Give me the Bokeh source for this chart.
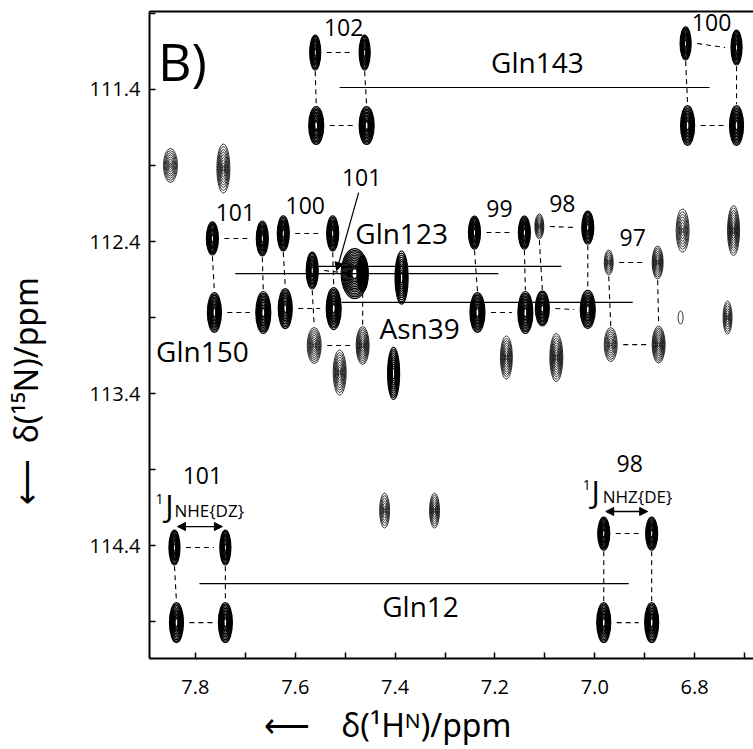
import numpy as np
from bokeh.plotting import figure
from bokeh.models import (Range1d, FixedTicker, NumeralTickFormatter, LinearAxis,
                          Label, Arrow, NormalHead, ColumnDataSource)
from bokeh.core.properties import value
from bokeh.embed import file_html
from bokeh.resources import INLINE

FONT = "Open Sans"

# ---------------- axes ----------------
x_major = [7.8, 7.6, 7.4, 7.2, 7.0, 6.8]
x_minor = [7.7, 7.5, 7.3, 7.1, 6.9, 6.7]
y_major = [111.4, 112.4, 113.4, 114.4]
y_minor = [110.9, 111.9, 112.9, 113.9, 114.9]
x_title = "δ(¹Hᴺ)/ppm"
y_title = "δ(¹⁵N)/ppm"

# ---------------- peaks ----------------
# quartet id (-1 = unassigned), corner, 1H ppm, 15N ppm, linewidths (ppm), contour levels
peak_quartet = [0, 0, 0, 0,  1, 1, 1, 1,  2, 2, 2, 2,  3, 3, 3, 3,  4, 4, 4, 4,
                5, 5, 5, 5,  6, 6, 6, 6,  7, 7, 7, 7,  8, 8, 8, 8,  9, 9, 9, 9,
                -1, -1, -1, -1, -1, -1, -1, -1, -1, -1, -1, -1, -1, -1]
peak_corner = ["UL", "UR", "LL", "LR"] * 10 + [""] * 14
peak_H = [7.560, 7.461, 7.558, 7.457,
          6.818, 6.716, 6.814, 6.716,
          7.766, 7.666, 7.762, 7.664,
          7.624, 7.525, 7.620, 7.523,
          7.566, 7.465, 7.562, 7.465,
          7.241, 7.141, 7.235, 7.139,
          7.111, 7.014, 7.105, 7.014,
          6.972, 6.874, 6.968, 6.872,
          7.842, 7.740, 7.838, 7.740,
          6.982, 6.886, 6.982, 6.886,
          7.850, 7.744, 7.481, 7.387, 7.511, 7.403, 7.177, 7.077,
          6.828, 6.734, 6.824, 6.722, 7.421, 7.321]
peak_N = [111.157, 111.157, 111.637, 111.637,
          111.097, 111.124, 111.637, 111.637,
          112.380, 112.380, 112.867, 112.867,
          112.347, 112.347, 112.841, 112.841,
          112.591, 112.611, 113.084, 113.084,
          112.341, 112.341, 112.867, 112.867,
          112.301, 112.308, 112.841, 112.847,
          112.538, 112.538, 113.078, 113.078,
          114.413, 114.413, 114.907, 114.907,
          114.321, 114.321, 114.907, 114.907,
          111.900, 111.920, 112.611, 112.637, 113.262, 113.268, 113.163, 113.163,
          112.900, 112.900, 112.328, 112.328, 114.170, 114.170]
peak_wH = [0.022, 0.022, 0.030, 0.030,
           0.022, 0.022, 0.028, 0.028,
           0.024, 0.024, 0.028, 0.030,
           0.024, 0.024, 0.028, 0.030,
           0.024, 0.022, 0.028, 0.026,
           0.024, 0.024, 0.030, 0.030,
           0.018, 0.024, 0.028, 0.030,
           0.018, 0.022, 0.026, 0.026,
           0.022, 0.022, 0.028, 0.028,
           0.024, 0.024, 0.028, 0.028,
           0.028, 0.026, 0.054, 0.026, 0.026, 0.024, 0.024, 0.026,
           0.010, 0.018, 0.026, 0.024, 0.020, 0.020]
peak_wN = [0.230, 0.230, 0.250, 0.250,
           0.217, 0.230, 0.263, 0.263,
           0.217, 0.230, 0.263, 0.276,
           0.230, 0.230, 0.263, 0.276,
           0.243, 0.237, 0.237, 0.250,
           0.217, 0.217, 0.263, 0.276,
           0.164, 0.217, 0.230, 0.250,
           0.164, 0.217, 0.224, 0.243,
           0.230, 0.230, 0.263, 0.263,
           0.217, 0.217, 0.263, 0.263,
           0.224, 0.322, 0.329, 0.349, 0.296, 0.342, 0.283, 0.316,
           0.086, 0.217, 0.283, 0.329, 0.230, 0.230]
peak_levels = [12, 12, 12, 12,
               12, 12, 12, 12,
               12, 12, 12, 12,
               12, 12, 11, 12,
               12, 12, 9, 10,
               12, 12, 12, 12,
               8, 11, 11, 11,
               7, 9, 8, 10,
               12, 12, 12, 12,
               12, 12, 12, 12,
               8, 9, 13, 11, 9, 11, 9, 10,
               1, 7, 8, 10, 7, 8]

# ---------------- connecting lines between quartet centres ----------------
link_name = ["Gln143", "Gln150", "Gln123", "Asn39", "Gln12"]
link_H0 = [7.511, 7.720, 7.556, 7.507, 7.792]
link_H1 = [6.770, 7.193, 7.067, 6.924, 6.932]
link_N = [111.387, 112.611, 112.564, 112.801, 114.650]

# ---------------- annotations ----------------
name_text = ["Gln143", "Gln123", "Gln150", "Asn39", "Gln12"]
name_H = [7.115, 7.387, 7.786, 7.351, 7.349]
name_N = [111.222, 112.341, 113.117, 112.972, 114.795]

num_text = ["102", "100", "101", "100", "101", "99", "98", "97", "101", "98"]
num_H = [7.503, 6.766, 7.720, 7.580, 7.467, 7.191, 7.065, 6.924, 7.786, 6.930]
num_N = [110.992, 110.959, 112.209, 112.163, 111.979, 112.183, 112.150, 112.374, 113.939, 113.861]

j_sub_text = ["NHE{DZ}", "NHZ{DE}"]
j_H = [7.852, 6.998]
j_N = [114.130, 114.038]
j_sup_H = [7.872, 7.016]
j_sup_N = [114.091, 113.999]
j_sub_H = [7.842, 6.984]
j_sub_N = [114.170, 114.078]
j_arrow_H0 = [7.836, 6.978]
j_arrow_H1 = [7.746, 6.894]
j_arrow_N = [114.275, 114.176]

pointer_start = (7.473, 112.078)
pointer_end = (7.517, 112.591)

# ---------------- figure ----------------
p = figure(width=753, height=748,
           x_range=Range1d(7.892, 6.682), y_range=Range1d(115.143, 110.887),
           output_backend="svg", toolbar_location=None,
           min_border_left=147, min_border_right=0, min_border_top=11, min_border_bottom=90)
p.outline_line_color = None
p.grid.visible = False
p.background_fill_color = "white"
p.border_fill_color = "white"

for ax, maj, mnr in ((p.xaxis[0], x_major, x_minor), (p.yaxis[0], y_major, y_minor)):
    ax.ticker = FixedTicker(ticks=maj, minor_ticks=mnr)
    ax.formatter = NumeralTickFormatter(format="0.0")
    ax.axis_line_width = 2
    ax.axis_line_color = "black"
    ax.major_tick_in = 6
    ax.major_tick_out = 0
    ax.minor_tick_in = 6
    ax.minor_tick_out = 0
    ax.major_tick_line_width = 1.5
    ax.minor_tick_line_width = 1.5
    ax.major_label_text_font = FONT
    ax.major_label_text_font_size = "20px"
    ax.major_label_text_color = "black"
    ax.axis_label_text_font = "Noto Sans"
    ax.axis_label_text_font_size = "32px"
    ax.axis_label_text_font_style = "normal"
    ax.axis_label_text_color = "black"

EM = "\u2003"
EN = "\u2002"
p.xaxis[0].major_label_standoff = 21
p.xaxis[0].axis_label = "⟵" + EN + EN + x_title + EM * 4
p.xaxis[0].axis_label_standoff = 6
p.yaxis[0].major_label_standoff = 9
p.yaxis[0].axis_label = "⟵" + EN + y_title + EM * 3 + EN
p.yaxis[0].axis_label_standoff = 40

top = LinearAxis(ticker=FixedTicker(ticks=[]), axis_line_width=2, axis_line_color="black",
                 major_tick_line_color=None, minor_tick_line_color=None,
                 major_label_text_font_size="0px")
p.add_layout(top, "above")

# dashed connectors inside each quartet
g_H = 0.012
g_N = 0.008
cx0, cx1, cy0, cy1 = [], [], [], []
quartets = sorted(set(q for q in peak_quartet if q >= 0))
for q in quartets:
    idx = {peak_corner[i]: i for i in range(len(peak_H)) if peak_quartet[i] == q}
    for a, b in (("UL", "UR"), ("LL", "LR")):
        i, j = idx[a], idx[b]
        cx0.append(peak_H[i] - peak_wH[i] / 2 - g_H)
        cx1.append(peak_H[j] + peak_wH[j] / 2 + g_H)
        cy0.append(peak_N[i])
        cy1.append(peak_N[j])
    for a, b in (("UL", "LL"), ("UR", "LR")):
        i, j = idx[a], idx[b]
        cx0.append(peak_H[i])
        cx1.append(peak_H[j])
        cy0.append(peak_N[i] + peak_wN[i] / 2 + g_N)
        cy1.append(peak_N[j] - peak_wN[j] / 2 - g_N)
p.segment(x0=cx0, x1=cx1, y0=cy0, y1=cy1, line_color="black",
          line_width=1.1, line_dash="5 4")

# contour ellipses
ex, ey, ew, eh, elw = [], [], [], [], []
for i in range(len(peak_H)):
    L = peak_levels[i]
    dark = L >= 11
    rmin = 0.2 if dark else 0.12
    for k in range(L):
        r = 1.0 if L == 1 else 1.0 - k * (1.0 - rmin) / (L - 1)
        ex.append(peak_H[i])
        ey.append(peak_N[i])
        ew.append(peak_wH[i] * r)
        eh.append(peak_wN[i] * r)
        elw.append(1.2 if dark else 0.8)
src = ColumnDataSource(dict(x=ex, y=ey, w=ew, h=eh, lw=elw))
p.ellipse(x="x", y="y", width="w", height="h", source=src,
          fill_color=None, line_color="black", line_width="lw")

# links
p.segment(x0=link_H0, x1=link_H1, y0=link_N, y1=link_N, line_color="black", line_width=1.2)

# texts
p.text(x=name_H, y=name_N, text=name_text, text_font=value(FONT), text_font_size="28px",
       text_align="center", text_baseline="middle", text_color="black")
p.text(x=num_H, y=num_N, text=num_text, text_font=value(FONT), text_font_size="23px",
       text_align="center", text_baseline="middle", text_color="black")
p.text(x=j_H, y=j_N, text=["J", "J"], text_font=value(FONT), text_font_size="31px",
       text_align="center", text_baseline="middle", text_color="black")
p.text(x=j_sup_H, y=j_sup_N, text=["1", "1"], text_font=value(FONT), text_font_size="14px",
       text_align="center", text_baseline="middle", text_color="black")
p.text(x=j_sub_H, y=j_sub_N, text=j_sub_text, text_font=value(FONT), text_font_size="17px",
       text_align="left", text_baseline="middle", text_color="black")

p.add_layout(Label(x=7.826, y=111.209, text="B)", text_font=FONT, text_font_size="52px",
                   text_align="center", text_baseline="middle", text_color="black"))

for h0, h1, n in zip(j_arrow_H0, j_arrow_H1, j_arrow_N):
    p.add_layout(Arrow(start=NormalHead(size=8, fill_color="black", line_color="black"),
                       end=NormalHead(size=8, fill_color="black", line_color="black"),
                       x_start=h0, x_end=h1, y_start=n, y_end=n, line_width=1.3))
p.add_layout(Arrow(end=NormalHead(size=8, fill_color="black", line_color="black"),
                   x_start=pointer_start[0], y_start=pointer_start[1],
                   x_end=pointer_end[0], y_end=pointer_end[1], line_width=1.2))

open("out.html", "w").write(file_html(p, INLINE))
